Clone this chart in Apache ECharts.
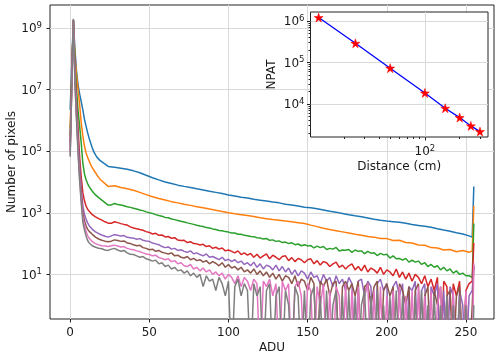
<!DOCTYPE html>
<html><head><meta charset="utf-8">
<script src="https://cdn.jsdelivr.net/npm/echarts@6/dist/echarts.min.js"></script>
<style>html,body{margin:0;padding:0;background:#fff}#c{width:500px;height:358px}</style>
</head><body><div id="c"></div>
<script>
// ADU bins (x values)
const aduFine = [0,1,2,3,4,5,6,7,8,9,10,11,12,13,14,15,16,17,18,19,20,
22,24,26,28,30,32,34,36,38,40,42,44,46,48,50,52,54,56,58,60,
62,64,66,68,70,72,74,76,78,80,82,84,86,88,90,92,94,96,98,100,
102,104,106,108,110,112,114,116,118,120,122,124,126,128,130,132,134,136,138,140,
142,144,146,148,150,152,154,156,158,160,162,164,166,168,170,172,174,176,178,180,
182,184,186,188,190,192,194,196,198,200,202,204,206,208,210,212,214,216,218,220,
222,224,226,228,230,232,234,236,238,240,242,244,246,248,250,252,254,255];
const aduCoarse = [0,1,2,3,4,5,6,7,8,9,10,11,12,13,14,15,16,17,18,19,20,
24,28,32,36,40,44,48,52,56,60,
64,68,72,76,80,84,88,92,96,100,
104,108,112,116,120,124,128,132,136,140,
144,148,152,156,160,164,168,172,176,180,
184,188,192,196,200,204,208,212,216,220,
224,228,232,236,240,244,248,252,254,255];

// Number of pixels per ADU
const countsBlue = [2.2e6,6.6e7,1.8e9,2.0e8,4.0e7,1.4e7,7.1e6,4.0e6,2.2e6,1.1e6,6.6e5,4.0e5,2.6e5,1.8e5,1.26e5,9.5e4,7.6e4,6.3e4,5.5e4,4.9e4,4.4e4,
32000,30000,28000,26000,23000,20000,16600,13800,11700,10000,
8900,7900,7200,6600,6000,5500,5000,4600,4200,3800,
3500,3200,3000,2750,2570,2400,2240,2100,1900,1780,
1660,1510,1450,1350,1230,1120,1050,955,870,795,
740,676,617,575,537,513,490,457,417,389,
363,339,302,275,251,224,204,178,162,7100];
const countsOrange = [5.9e5,3.5e7,1.8e9,1.26e8,3.2e7,1.0e7,3.2e6,8.0e5,3.2e5,1.5e5,8.9e4,6.3e4,4.8e4,3.6e4,2.9e4,2.4e4,2.0e4,1.66e4,1.41e4,1.2e4,1.07e4,
7200,7600,6600,6000,5400,4600,3900,3300,2900,2600,
2300,2100,1900,1740,1580,1450,1320,1200,1100,1000,
933,871,813,759,692,646,603,575,537,513,
479,447,398,355,316,288,263,240,219,200,
186,170,162,146,145,126,128,108,104,90,
88,74,72,62,64,54,60,52,58,1700];
const countsGreen = [3.2e5,2.5e7,1.8e9,8.0e7,1.0e7,2.0e6,6.3e5,1.8e5,4.0e4,1.86e4,1.2e4,8900,7100,5900,5000,4400,3800,3400,3100,2800,2570,
2140,1780,1800,2000,1860,1780,1700,1580,1500,1410,1320,1230,1175,1070,1000,955,870,813,776,708,
690,630,600,565,530,500,470,445,420,395,372,360,330,322,300,285,268,262,245,236,
222,220,202,200,185,180,170,168,155,152,140,146,128,132,118,122,108,112,100,106,
92,97,85,92,84,86,72,83,74,80,64,70,66,75,57,62,61,64,52,62,
56,58,47,56,49,50,41,48,43,45,34,40,32,33,29,33,25,29,25,27,
21,24,18,21,17,19,14,17,13,15,11,13,10,11,9,9,8,450];
const countsRed = [2.0e5,2.0e7,1.8e9,4.0e7,4.0e6,5.0e5,6.3e4,1.4e4,4500,2500,1660,1320,1120,980,870,790,740,690,645,615,575,
510,460,455,510,480,445,420,400,350,320,305,285,270,245,230,205,215,185,190,165,
170,148,155,130,126,128,108,115,100,98,90,95,80,85,70,76,66,72,58,62,
56,50,58,44,50,42,48,36,45,34,40,46,32,42,36,30,38,40,28,35,
26,33,30,24,30,32,22,28,20,26,24,18,22,25,17,20,15,19,22,14,
18,13,20,12,16,14,11,17,10,14,12,9,15,8,12,7,11,6,10,8,
5,9,4,7,3,8,0,6,4,0,5,2,6,0,3,5,6,105];
const countsPurple = [1.4e5,1.6e7,1.8e9,3.2e7,2.5e6,2.5e5,3.2e4,6300,1660,890,630,470,380,330,290,263,240,224,209,200,190,
174,162,178,195,186,175,182,160,155,150,138,145,128,122,118,104,98,92,80,74,
78,66,70,60,63,56,52,58,47,50,44,40,46,36,38,34,30,36,28,31,
26,30,24,27,21,24,19,25,17,22,15,20,18,14,20,13,18,12,16,10,
14,9,13,11,7,12,8,9,5,10,6,8,4,9,5,7,3,8,5,0,
6,7,2,6,4,0,5,7,3,5,0,4,6,2,5,0,4,3,6,0,
3,5,0,4,2,5,0,3,0,4,2,0,3,1,0,2,3,20];
const countsBrown = [1.0e5,1.3e7,1.8e9,2.5e7,1.6e6,1.6e5,2.0e4,4000,1000,560,380,295,250,220,200,178,162,151,141,135,129,
120,115,120,132,126,118,122,105,100,92,85,88,74,70,63,66,56,60,52,49,
46,50,40,42,36,34,38,30,33,28,30,25,28,22,26,23,19,24,17,21,
16,18,14,17,12,14,11,15,10,13,9,12,8,11,7,10,6,9,8,5,
9,4,7,6,3,8,5,0,6,4,7,2,5,6,0,4,6,3,5,2,
6,0,4,5,1,4,6,0,3,5,2,4,0,5,3,1,4,0,3,5,
0,2,4,0,3,1,4,0,2,3,0,2,4,0,2,0,1,18];
const countsPink = [8.0e4,1.26e7,1.8e9,2.0e7,1.3e6,1.0e5,1.3e4,2500,700,400,250,182,148,129,115,107,100,95,91,87,85,
83,81,85,89,84,78,80,70,66,63,58,55,50,46,44,40,42,35,33,30,
32,26,28,22,24,19,18,21,15,17,13,16,12,14,10,12,9,11,7,10,
8,5,9,4,8,6,3,7,5,0,6,4,7,2,5,0,6,3,5,0,
4,6,2,0,5,3,0,4,1,5,0,3,0,4,2,0,5,0,3,0,
4,0,2,5,0,3,0,4,0,2,0,3,0,4,0,2,0,3,0,4,
0,2,0,3,0,1,4,0,2,0,3,0,2,0,3,0,0,23];
const countsGray = [6.6e4,1.15e7,2.0e9,1.6e7,1.0e6,8.0e4,1.0e4,2000,500,280,178,126,105,93,85,79,76,72,71,69,68,
62,60,66,70,62,56,60,50,45,44,40,36,38,32,30,27,29,22,24,18,
20,15,17,13,14,11,13,9,11,8,10,4,9,6,7,3,8,5,2,6,
0,4,7,2,5,3,0,5,2,4,0,3,5,0,2,4,0,3,1,0,
4,2,0,3,0,2,4,0,2,0,3,0,1,3,0,2,0,3,0,2,
0,1,3,0,2,0,3,0,1,0,2,0,3,0,2,0,1,0,2,0,
3,0,1,0,2,0,1,0,2,0,1,0,2,0,1,0,0,1];

// Inset: NPAT vs distance
const distanceCm = [12,25,50,100,150,200,250,300];
const npat = [1.21e6,2.9e5,7.3e4,1.84e4,7.9e3,4.7e3,2.96e3,2.16e3];

// Tick values
const xTickValues = [0,50,100,150,200,250];
const yTickValues = [1e1,1e3,1e5,1e7,1e9];
const insetXTickValues = [100];
const insetXMinorValues = [20,30,40,50,60,70,80,90,200,300];
const insetYTickValues = [1e4,1e5,1e6];
const insetYMinorValues = [2000,3000,4000,5000,6000,7000,8000,9000,20000,30000,40000,50000,60000,70000,80000,90000,200000,300000,400000,500000,600000,700000,800000,900000];

const seriesDefs = [
  {counts: countsBlue, adu: aduCoarse, color: '#1f77b4'},
  {counts: countsOrange, adu: aduCoarse, color: '#ff7f0e'},
  {counts: countsGreen, adu: aduFine, color: '#2ca02c'},
  {counts: countsRed, adu: aduFine, color: '#d62728'},
  {counts: countsPurple, adu: aduFine, color: '#9467bd'},
  {counts: countsBrown, adu: aduFine, color: '#8c564b'},
  {counts: countsPink, adu: aduFine, color: '#e377c2'},
  {counts: countsGray, adu: aduFine, color: '#7f7f7f'}
];
// zero counts fall below the log axis floor and get clipped, as in the original
const ZERO_FLOOR = 0.01;

const FONT = 'DejaVu Sans';
const TXT = '#1a1a1a';
const GRIDC = '#d9d9d9';
const supRich = {
  b: {fontSize: 12, lineHeight: 14, verticalAlign: 'bottom', color: TXT, fontFamily: FONT},
  e: {fontSize: 8.5, lineHeight: 10, verticalAlign: 'top', padding: [0,0,5,0], color: TXT, fontFamily: FONT}
};
const powFmt = v => '{b|10}{e|' + Math.round(Math.log10(v)) + '}';

const chart = echarts.init(document.getElementById('c'), null, {renderer: 'canvas'});
const mainSeries = seriesDefs.map(d => ({
  type: 'line', xAxisIndex: 0, yAxisIndex: 0,
  data: d.adu.map((a, i) => [a, d.counts[i] > 0 ? d.counts[i] : ZERO_FLOOR]),
  showSymbol: false, symbol: 'none', clip: true,
  lineStyle: {color: d.color, width: 1.5}, itemStyle: {color: d.color},
  z: 2
}));
const starPath = 'path://M50,0 L61.2,34.5 L97.6,34.5 L68.2,55.9 L79.4,90.5 L50,69.1 L20.6,90.5 L31.8,55.9 L2.4,34.5 L38.8,34.5 Z';

chart.setOption({
  animation: false,
  textStyle: {fontFamily: FONT},
  grid: [
    {left: 50, top: 5, width: 444, height: 314, containLabel: false, outerBoundsMode: 'none',
     show: true, borderColor: '#222', borderWidth: 1, backgroundColor: '#fff', z: 0},
    {left: 310.5, top: 12, width: 177.5, height: 125, containLabel: false, outerBoundsMode: 'none',
     show: true, borderColor: '#222', borderWidth: 1, backgroundColor: '#fff', z: 10}
  ],
  xAxis: [
    {gridIndex: 0, type: 'value', min: -12.75, max: 267.75,
     axisLine: {show: false, onZero: false},
     axisTick: {show: true, customValues: xTickValues, length: 3.5, lineStyle: {color: '#222'}},
     axisLabel: {customValues: xTickValues, fontSize: 12, color: TXT, margin: 8},
     splitLine: {show: true, lineStyle: {color: GRIDC, width: 1}},
     name: 'ADU', nameLocation: 'middle', nameGap: 23, nameMoveOverlap: false, nameTextStyle: {fontSize: 12, color: TXT}},
    {gridIndex: 1, type: 'log', logBase: 10, min: 10.2, max: 352, z: 11,
     axisLine: {show: false, onZero: false},
     axisTick: {show: true, customValues: insetXTickValues, length: 3.5, lineStyle: {color: '#222'}},
     axisLabel: {customValues: insetXTickValues, formatter: powFmt, rich: supRich, margin: 7},
     splitLine: {show: true, lineStyle: {color: GRIDC, width: 1}},
     name: 'Distance (cm)', nameLocation: 'middle', nameGap: 24, nameTextStyle: {fontSize: 12, color: TXT}},
    {gridIndex: 1, type: 'log', logBase: 10, min: 10.2, max: 352, position: 'top', offset: -125, z: 11,
     axisLine: {show: false, onZero: false},
     axisTick: {show: true, inside: true, customValues: insetXMinorValues, length: 2, lineStyle: {color: '#222'}},
     axisLabel: {show: false}, splitLine: {show: false}}
  ],
  yAxis: [
    {gridIndex: 0, type: 'log', logBase: 10, min: 0.356, max: 5.58e9,
     axisLine: {show: false, onZero: false},
     axisTick: {show: true, customValues: yTickValues, length: 3.5, lineStyle: {color: '#222'}},
     axisLabel: {customValues: yTickValues, formatter: powFmt, rich: supRich, margin: 8},
     splitLine: {show: true, lineStyle: {color: GRIDC, width: 1}},
     name: 'Number of pixels', nameLocation: 'middle', nameGap: 32, nameMoveOverlap: false, nameTextStyle: {fontSize: 12, color: TXT}},
    {gridIndex: 1, type: 'log', logBase: 10, min: 1600, max: 1.65e6, z: 11,
     axisLine: {show: false, onZero: false},
     axisTick: {show: true, customValues: insetYTickValues, length: 3.5, lineStyle: {color: '#222'}},
     axisLabel: {customValues: insetYTickValues, formatter: powFmt, rich: supRich, margin: 6},
     splitLine: {show: true, lineStyle: {color: GRIDC, width: 1}},
     name: 'NPAT', nameLocation: 'middle', nameGap: 33, nameTextStyle: {fontSize: 12, color: TXT}},
    {gridIndex: 1, type: 'log', logBase: 10, min: 1600, max: 1.65e6, position: 'right', offset: -177.5, z: 11,
     axisLine: {show: false, onZero: false},
     axisTick: {show: true, inside: true, customValues: insetYMinorValues, length: 2, lineStyle: {color: '#222'}},
     axisLabel: {show: false}, splitLine: {show: false}}
  ],
  series: mainSeries.concat([{
    type: 'line', xAxisIndex: 1, yAxisIndex: 1,
    data: distanceCm.map((d, i) => [d, npat[i]]),
    symbol: starPath, symbolSize: 9, showSymbol: true,
    lineStyle: {color: '#0000ff', width: 1.3},
    itemStyle: {color: '#ff0000', borderColor: '#ff0000', borderWidth: 0.5},
    z: 20
  }])
});
</script></body></html>
